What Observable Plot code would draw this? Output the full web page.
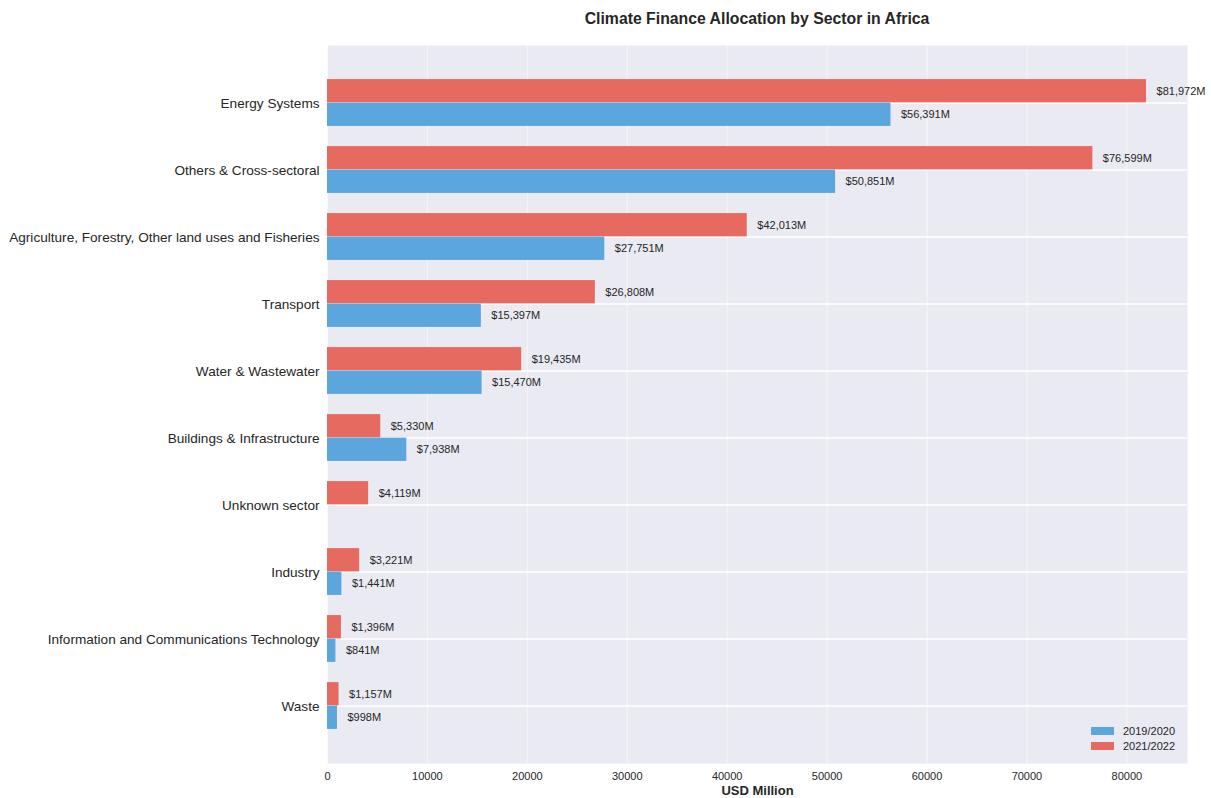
<!DOCTYPE html>
<html>
<head>
<meta charset="utf-8">
<script src="https://cdn.jsdelivr.net/npm/d3@7"></script>
<script src="https://cdn.jsdelivr.net/npm/@observablehq/plot@0.6"></script>
<style>
  body { margin: 0; background: #fff; font-family: "Liberation Sans", Arial, sans-serif; }
  #wrap { position: relative; width: 1211px; height: 798px; }
  #title { height: 36px; line-height: 37px; padding-left: 327px; width: 860px; text-align: center;
           font-weight: bold; font-size: 15.8px; color: #262626; }
  #legend { position: absolute; left: 1091px; top: 723px; font-size: 11px; color: #262626; }
  #legend div { display: flex; align-items: center; height: 15.5px; }
  #legend span.sw { display: inline-block; width: 23px; height: 8px; margin-right: 9px; }
</style>
</head>
<body>
<div id="wrap">
  <div id="title">Climate Finance Allocation by Sector in Africa</div>
  <div id="chart"></div>
  <div id="legend"></div>
</div>
<script>
const sectors = [
  "Energy Systems",
  "Others & Cross-sectoral",
  "Agriculture, Forestry, Other land uses and Fisheries",
  "Transport",
  "Water & Wastewater",
  "Buildings & Infrastructure",
  "Unknown sector",
  "Industry",
  "Information and Communications Technology",
  "Waste"
];
const values2019 = [56391, 50851, 27751, 15397, 15470, 7938, 0, 1441, 841, 998];
const values2021 = [81972, 76599, 42013, 26808, 19435, 5330, 4119, 3221, 1396, 1157];
const seriesNames = ["2019/2020", "2021/2022"];
const xTicks = [0, 10000, 20000, 30000, 40000, 50000, 60000, 70000, 80000];
const colors = ["#5aa6dd", "#e76a60"];

const rows = [];
sectors.forEach((s, i) => {
  rows.push({sector: s, series: seriesNames[0], value: values2019[i]});
  rows.push({sector: s, series: seriesNames[1], value: values2021[i]});
});
const r2019 = rows.filter(d => d.series === seriesNames[0]);
const r2021 = rows.filter(d => d.series === seriesNames[1]);

const plotH = 718;
const step = plotH / 10.67;
const barH = step * 0.35;
const half = step / 2;
const fmt = d3.format(",");

const chart = Plot.plot({
  width: 1211,
  height: 762,
  marginTop: 9,
  marginBottom: 35,
  marginLeft: 327,
  marginRight: 24,
  style: {fontFamily: "'Liberation Sans', Arial, sans-serif", background: "#fff"},
  x: {domain: [0, 86070]},
  y: {domain: sectors, paddingInner: 0, paddingOuter: 0.335},
  color: {domain: seriesNames, range: colors},
  marks: [
    Plot.frame({fill: "#eaeaf2", stroke: null}),
    Plot.gridX(xTicks, {stroke: "#fff", strokeOpacity: 0.55, strokeWidth: 1}),
    Plot.gridY({stroke: "#fff", strokeOpacity: 1, strokeWidth: 1.3}),
    Plot.barX(r2021, {x: "value", y: "sector", fill: "series", insetTop: half - barH, insetBottom: half}),
    Plot.barX(r2019, {x: "value", y: "sector", fill: "series", insetTop: half, insetBottom: half - barH}),
    Plot.text(r2021.filter(d => d.value > 0), {x: "value", y: "sector", text: d => "$" + fmt(d.value) + "M",
      dx: 10, dy: -barH / 2, textAnchor: "start", fontSize: 11, fill: "#262626"}),
    Plot.text(r2019.filter(d => d.value > 0), {x: "value", y: "sector", text: d => "$" + fmt(d.value) + "M",
      dx: 10, dy: barH / 2, textAnchor: "start", fontSize: 11, fill: "#262626"}),
    Plot.axisY({tickSize: 0, tickPadding: 8, fontSize: 13.6, dy: 1, label: null, color: "#262626"}),
    Plot.axisX({ticks: xTicks, tickSize: 0, tickPadding: 9, tickFormat: d => String(d), fontSize: 11, label: null, color: "#262626"}),
    Plot.text(["USD Million"], {frameAnchor: "bottom", dy: 31, fontWeight: "bold", fontSize: 13, fill: "#262626"})
  ]
});
document.getElementById("chart").appendChild(chart);

const legend = document.getElementById("legend");
seriesNames.forEach((n, i) => {
  const row = document.createElement("div");
  row.innerHTML = `<span class="sw" style="background:${colors[i]}"></span>${n}`;
  legend.appendChild(row);
});
</script>
</body>
</html>
